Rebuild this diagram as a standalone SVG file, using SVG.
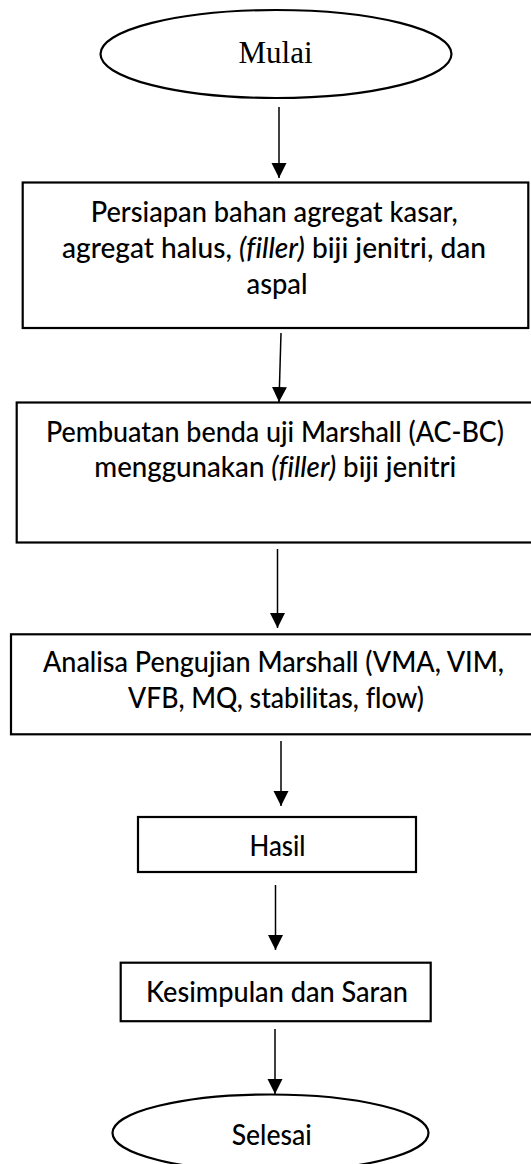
<svg xmlns="http://www.w3.org/2000/svg" width="531" height="1164" viewBox="0 0 531 1164">
<style>
.shape{fill:#fff;stroke:#000;stroke-width:2.2}
.conn{stroke:#000;stroke-width:1.5;fill:none;marker-end:url(#ah)}
.t{font-family:Lato,"Open Sans","Liberation Sans",sans-serif;font-size:28px;font-weight:500;fill:#000;font-variant-ligatures:none;font-feature-settings:"liga" 0}
.serif{font-family:"Liberation Serif","Times New Roman",serif;font-size:31px;fill:#000}
.it{font-style:italic}
</style>
<defs>
<marker id="ah" markerUnits="userSpaceOnUse" markerWidth="16" markerHeight="16" refX="15" refY="7.5" orient="auto">
<path d="M0,0 L15,7.5 L0,15 z" fill="#000"/>
</marker>
</defs>
<rect width="531" height="1164" fill="#fff"/>
<g id="connectors">
<line class="conn" x1="279" y1="107" x2="279" y2="178"/>
<line class="conn" x1="281" y1="333" x2="279" y2="402"/>
<line class="conn" x1="277.5" y1="549" x2="277.5" y2="628"/>
<line class="conn" x1="281" y1="741" x2="281" y2="806"/>
<line class="conn" x1="275.5" y1="885" x2="275.5" y2="950"/>
<line class="conn" x1="275" y1="1029" x2="275" y2="1094"/>
</g>
<g id="start">
<ellipse class="shape" cx="276" cy="54" rx="175.5" ry="44"/>
<text class="serif" x="275.5" y="63" text-anchor="middle">Mulai</text>
</g>
<g id="step1">
<rect class="shape" x="22.7" y="182.5" width="505.6" height="145.5"/>
<text class="t" x="90.7" y="222" textLength="367" lengthAdjust="spacingAndGlyphs">Persiapan bahan agregat kasar,</text>
<text class="t" x="62" y="258" textLength="424" lengthAdjust="spacingAndGlyphs">agregat halus, <tspan class="it">(filler)</tspan> biji jenitri, dan</text>
<text class="t" x="246.5" y="294" textLength="61" lengthAdjust="spacingAndGlyphs">aspal</text>
</g>
<g id="step2">
<rect class="shape" x="16.7" y="402.5" width="530" height="140"/>
<text class="t" x="46" y="442" textLength="458" lengthAdjust="spacingAndGlyphs">Pembuatan benda uji Marshall (AC-BC)</text>
<text class="t" x="94.3" y="477" textLength="362" lengthAdjust="spacingAndGlyphs">menggunakan <tspan class="it">(filler)</tspan> biji jenitri</text>
</g>
<g id="step3">
<rect class="shape" x="11" y="634.3" width="535" height="100"/>
<text class="t" x="43" y="672" textLength="461" lengthAdjust="spacingAndGlyphs">Analisa Pengujian Marshall (VMA, VIM,</text>
<text class="t" x="128" y="708" textLength="296" lengthAdjust="spacingAndGlyphs">VFB, MQ, stabilitas, flow)</text>
</g>
<g id="hasil">
<rect class="shape" x="138" y="817" width="278" height="55"/>
<text class="t" x="249.5" y="856" textLength="56" lengthAdjust="spacingAndGlyphs">Hasil</text>
</g>
<g id="kesimpulan">
<rect class="shape" x="120.7" y="962.7" width="310" height="58.5"/>
<text class="t" x="146" y="1002" textLength="262" lengthAdjust="spacingAndGlyphs">Kesimpulan dan Saran</text>
</g>
<g id="end">
<ellipse class="shape" cx="270.5" cy="1133" rx="158" ry="38.5"/>
<text class="t" x="231.7" y="1145" textLength="80" lengthAdjust="spacingAndGlyphs">Selesai</text>
</g>
</svg>
